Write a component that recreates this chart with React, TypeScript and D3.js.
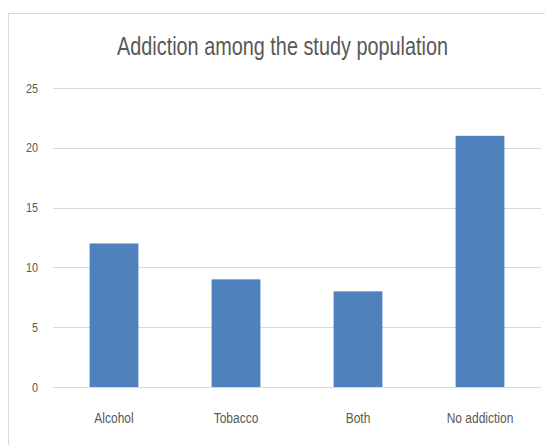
import { useEffect, useRef } from 'react';
import * as d3 from 'd3';

const categories = ['Alcohol', 'Tobacco', 'Both', 'No addiction'];
const counts = [12, 9, 8, 21];
const yTicks = [0, 5, 10, 15, 20, 25];
const title = 'Addiction among the study population';

const FONT = '"Liberation Sans Narrow", "Arial Narrow", "Liberation Sans", sans-serif';

const App = () => {
  const svgRef = useRef<SVGSVGElement>(null);

  useEffect(() => {
    const svg = d3.select(svgRef.current);
    svg.selectAll('*').remove();

    const width = 545;
    const height = 445;
    const left = 53;
    const right = 541;
    const top = 88;
    const bottom = 387;
    // the original uses a condensed face, squeeze the fallback horizontally
    const squeeze = 0.8;

    svg.attr('width', width).attr('height', height);

    // chart frame
    svg.append('rect')
      .attr('x', 8.5)
      .attr('y', 13.5)
      .attr('width', 560)
      .attr('height', 460)
      .attr('fill', '#fff')
      .attr('stroke', '#d9d9d9');

    const x = d3.scaleBand<string>()
      .domain(categories)
      .range([left, right])
      .paddingInner(0.6)
      .paddingOuter(0.3);

    const y = d3.scaleLinear().domain([0, 25]).range([bottom, top]);

    // gridlines
    svg.append('g')
      .selectAll('line')
      .data(yTicks)
      .enter()
      .append('line')
      .attr('x1', left)
      .attr('x2', right)
      .attr('y1', d => Math.round(y(d)) + 0.5)
      .attr('y2', d => Math.round(y(d)) + 0.5)
      .attr('stroke', '#d9d9d9')
      .attr('stroke-width', 1);

    // y tick labels
    svg.append('g')
      .selectAll('text')
      .data(yTicks)
      .enter()
      .append('text')
      .attr('transform', d => `translate(38,${y(d) + 4.5}) scale(${squeeze},1)`)
      .attr('text-anchor', 'end')
      .attr('font-family', FONT)
      .attr('font-size', 13.5)
      .attr('fill', '#595959')
      .text(d => d);

    // bars
    svg.append('g')
      .selectAll('rect')
      .data(counts)
      .enter()
      .append('rect')
      .attr('x', (d, i) => x(categories[i]) as number)
      .attr('y', d => y(d))
      .attr('width', x.bandwidth())
      .attr('height', d => y(0) - y(d))
      .attr('fill', '#4f81bd');

    // category labels
    svg.append('g')
      .selectAll('text')
      .data(categories)
      .enter()
      .append('text')
      .attr('transform', d => `translate(${(x(d) as number) + x.bandwidth() / 2},423) scale(${squeeze},1)`)
      .attr('text-anchor', 'middle')
      .attr('font-family', FONT)
      .attr('font-size', 15)
      .attr('fill', '#595959')
      .text(d => d);

    // title
    svg.append('text')
      .attr('x', 117)
      .attr('y', 55)
      .attr('font-family', FONT)
      .attr('font-size', 25)
      .attr('fill', '#595959')
      .attr('textLength', 331)
      .attr('lengthAdjust', 'spacingAndGlyphs')
      .text(title);
  }, []);

  return (
    <svg ref={svgRef} style={{ position: 'absolute', left: 0, top: 0 }}></svg>
  );
};

export default App;
